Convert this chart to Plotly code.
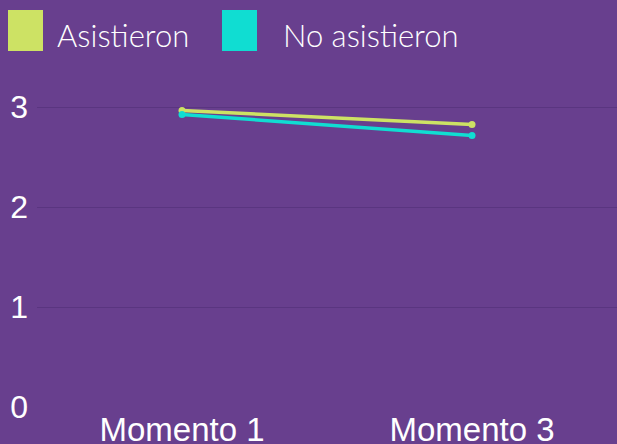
import plotly.graph_objects as go

categories = ["Momento 1", "Momento 3"]
asistieron = [2.965, 2.825]
no_asistieron = [2.925, 2.715]
series_names = ["Asistieron", "No asistieron"]
colors = ["#cde264", "#10ddd2"]
y_ticks = [0, 1, 2, 3]

bg = "#683f8e"
L, T, B = 37, 57, 37
PW, PH = 617 - L, 444 - T - B

fig = go.Figure()
for name, vals, col in zip(series_names, [asistieron, no_asistieron], colors):
    fig.add_trace(go.Scatter(x=categories, y=vals, mode="lines+markers", name=name,
                             line=dict(color=col, width=3.5),
                             marker=dict(color=col, size=7)))

# manual legend (square swatches + labels)
sq_x = [8, 222]
txt_x = [57, 283]
for i, (name, col) in enumerate(zip(series_names, colors)):
    x0 = sq_x[i]
    fig.add_shape(type="rect", xref="paper", yref="paper",
                  x0=(x0 - L) / PW, x1=(x0 + 35 - L) / PW,
                  y0=(444 - B - 51) / PH, y1=(444 - B - 10) / PH,
                  fillcolor=col, line=dict(width=0))
    fig.add_annotation(xref="paper", yref="paper", x=(txt_x[i] - 2 - L) / PW,
                       y=(444 - B - 35) / PH, text=name, showarrow=False,
                       xanchor="left", yanchor="middle",
                       font=dict(family="Lato", size=31, color="white", weight=300))

fig.update_layout(
    width=617, height=444,
    margin=dict(l=L, r=0, t=T, b=B, pad=0, autoexpand=False),
    paper_bgcolor=bg, plot_bgcolor=bg,
    showlegend=False,
    xaxis=dict(type="category", range=[-0.5, 1.5], showgrid=False, zeroline=False,
               showline=False, ticks="", ticklabelstandoff=0, automargin=False,
               tickfont=dict(family="Liberation Sans", size=33, color="white")),
    yaxis=dict(range=[0, 3.5], tickvals=y_ticks, showgrid=True, gridcolor="#5a3580", gridwidth=1,
               zeroline=False, showline=False, ticks="", ticklabelstandoff=8, automargin=False,
               tickfont=dict(family="Liberation Sans", size=32, color="white")),
)
fig.write_html("out.html", config={"displayModeBar": False},
               post_script="document.body.style.margin='0';document.body.style.overflow='hidden';")
